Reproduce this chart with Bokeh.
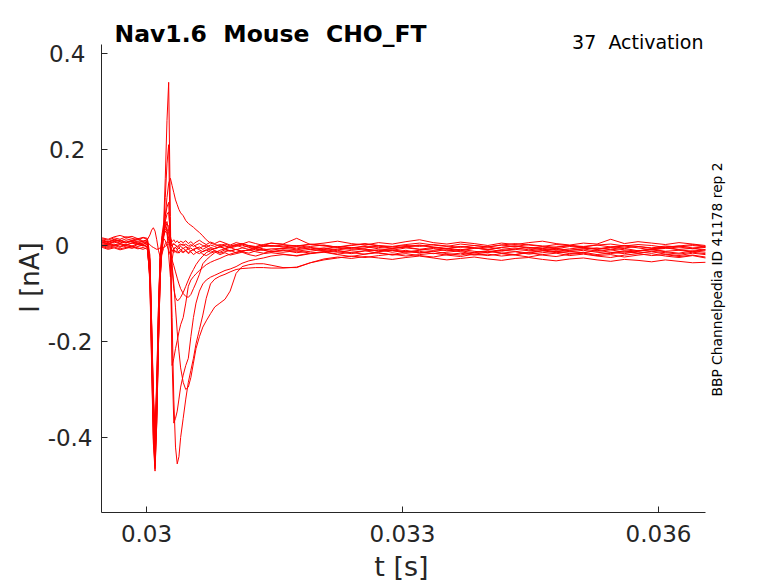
from bokeh.plotting import figure
from bokeh.models import Label, FixedTicker, Range1d, LinearAxis
from bokeh.embed import file_html
from bokeh.resources import INLINE

# ---------------- data ----------------
title_text = "Nav1.6\u00a0 Mouse\u00a0 CHO_FT"
protocol_text = "37\u00a0 Activation"
side_text = "BBP Channelpedia ID 41178 rep 2"
x_label = "t [s]"
y_label = "I [nA]"

x_ticks = [0.030, 0.033, 0.036]
x_tick_labels = ["0.03", "0.033", "0.036"]
y_ticks = [-0.4, -0.2, 0.0, 0.2, 0.4]
y_tick_labels = ["-0.4", "-0.2", "0", "0.2", "0.4"]

# axis extents (data units)
t_lim = (0.0294727, 0.0365508)
i_lim = (-0.55625, 0.41875)

# time [s]
t_s = [
    0.02948, 0.02955, 0.02962, 0.02969, 0.02976, 0.02983, 0.02990, 0.02996, 0.03001,
    0.03004, 0.03006, 0.03008, 0.03010, 0.03012, 0.03014, 0.03016, 0.03018, 0.03020, 0.03022,
    0.03024, 0.03026, 0.03028, 0.03030, 0.03032, 0.03034, 0.03036, 0.03038, 0.03040,
    0.03043, 0.03046, 0.03049, 0.03052, 0.03055, 0.03058, 0.03062, 0.03066, 0.03070, 0.03075,
    0.03080, 0.03086, 0.03092, 0.03098, 0.03105, 0.03112, 0.03120, 0.03128, 0.03137, 0.03146,
    0.03160, 0.03176, 0.03192, 0.03208, 0.03224, 0.03240, 0.03256, 0.03272, 0.03288, 0.03304,
    0.03320, 0.03336, 0.03352, 0.03368, 0.03384, 0.03400, 0.03416, 0.03432, 0.03448, 0.03464,
    0.03480, 0.03496, 0.03512, 0.03528, 0.03544, 0.03560, 0.03576, 0.03592, 0.03608, 0.03624,
    0.03640, 0.03655,
]

# current traces [nA]
i_a = [0.010, 0.006, 0.012, 0.009, 0.014, 0.011, 0.007, 0.009, 0.012,
       0.022, 0.032, 0.037, 0.030, 0.012, -0.010, -0.024, -0.018, -0.006, 0.004, 0.008, 0.006, 0.002, -0.001, 0.003, 0.000, -0.004, -0.002, 0.001,
       0.003, -0.002, -0.005, -0.001, 0.002, -0.003, -0.006, -0.002, 0.001, -0.004, -0.007, -0.003, 0.000, -0.005, -0.002, 0.001, -0.004, -0.006, -0.002, 0.000,
       -0.003, -0.007, -0.002, 0.001, -0.004, -0.008, -0.005, -0.001, -0.006, -0.003, 0.000, -0.004, -0.007, -0.002, -0.005, -0.009, -0.004, -0.001, -0.006, -0.003, -0.007, -0.002, -0.005, -0.008, -0.004, -0.001, -0.005, -0.009, -0.006, -0.003, -0.007, -0.004]
i_b = [0.004, 0.000, 0.003, -0.002, 0.001, 0.005, 0.002, -0.001, 0.003,
       -0.05, -0.19, -0.34, -0.42, -0.31, -0.15, -0.03, 0.02, 0.045, 0.05, 0.03, -0.02, -0.065, -0.03, -0.006, -0.004, -0.008, -0.005, -0.009,
       -0.006, -0.010, -0.007, -0.012, -0.008, -0.005, -0.009, -0.013, -0.010, -0.006, -0.011, -0.014, -0.009, -0.012, -0.008, -0.013, -0.016, -0.011, -0.009, -0.014,
       -0.010, -0.015, -0.012, -0.008, -0.013, -0.017, -0.011, -0.009, -0.014, -0.010, -0.016, -0.012, -0.009, -0.013, -0.018, -0.014, -0.010, -0.012, -0.016, -0.011, -0.008, -0.013, -0.015, -0.010, -0.014, -0.017, -0.012, -0.009, -0.013, -0.016, -0.011, -0.014]
i_c = [-0.002, 0.003, 0.000, -0.004, 0.002, -0.001, 0.004, 0.001, -0.002,
       -0.06, -0.21, -0.37, -0.45, -0.34, -0.20, -0.07, -0.01, 0.04, 0.14, 0.26, 0.34, 0.06, -0.24, -0.37, -0.36, -0.345, -0.32, -0.295,
       -0.27, -0.25, -0.235, -0.19, -0.15, -0.12, -0.095, -0.08, -0.072, -0.066, -0.062, -0.057, -0.052, -0.049, -0.044, -0.037, -0.032, -0.029, -0.026, -0.022,
       -0.019, -0.021, -0.016, -0.013, -0.018, -0.014, -0.011, -0.016, -0.019, -0.013, -0.015, -0.012, -0.017, -0.020, -0.014, -0.011, -0.016, -0.013, -0.018, -0.015, -0.012, -0.017, -0.014, -0.019, -0.015, -0.011, -0.016, -0.013, -0.018, -0.021, -0.016, -0.019]
i_d = [0.012, 0.008, 0.013, 0.010, 0.007, 0.011, 0.015, 0.009, 0.012,
       -0.04, -0.19, -0.35, -0.44, -0.35, -0.19, -0.06, 0.0, 0.03, 0.10, 0.17, 0.21, -0.02, -0.25, -0.235, -0.215, -0.198, -0.18, -0.165,
       -0.15, -0.12, -0.085, -0.072, -0.065, -0.059, -0.052, -0.046, -0.040, -0.035, -0.031, -0.027, -0.022, -0.018, -0.014, -0.011, -0.010, -0.008, -0.009, -0.007,
       -0.006, -0.009, -0.005, -0.010, -0.007, -0.004, -0.008, -0.011, -0.006, -0.003, -0.008, -0.010, -0.006, -0.009, -0.005, -0.008, -0.012, -0.007, -0.004, -0.009, -0.006, -0.010, -0.007, -0.005, -0.009, -0.006, -0.011, -0.008, -0.005, -0.009, -0.012, -0.008]
i_e = [0.014, 0.011, 0.016, 0.013, 0.018, 0.015, 0.012, 0.016, 0.013,
       -0.03, -0.17, -0.33, -0.42, -0.31, -0.15, -0.03, 0.01, 0.03, 0.06, 0.10, 0.13, 0.14, 0.125, 0.11, 0.095, 0.085, 0.075, 0.068,
       0.062, 0.052, 0.046, 0.042, 0.038, 0.033, 0.027, 0.020, 0.012, 0.005, 0.002, 0.000, 0.003, -0.001, 0.002, 0.004, 0.000, -0.002, 0.002, 0.005,
       0.002, -0.001, 0.003, 0.000, -0.003, 0.001, 0.004, 0.000, -0.002, 0.002, 0.005, 0.001, -0.002, 0.003, 0.000, -0.003, 0.001, 0.004, 0.001, -0.002, 0.002, 0.000, -0.003, 0.001, 0.003, -0.001, 0.002, 0.000, -0.004, -0.001, 0.002, -0.002]
i_f = [-0.002, -0.006, -0.003, -0.007, -0.004, -0.001, -0.005, -0.008, -0.004,
       -0.07, -0.23, -0.39, -0.46, -0.36, -0.20, -0.06, 0.0, 0.03, 0.06, 0.08, 0.09, 0.0, -0.15, -0.32, -0.42, -0.455, -0.44, -0.40,
       -0.36, -0.32, -0.285, -0.26, -0.235, -0.205, -0.175, -0.145, -0.110, -0.080, -0.070, -0.064, -0.060, -0.055, -0.050, -0.048, -0.047, -0.046, -0.046, -0.047,
       -0.047, -0.045, -0.036, -0.030, -0.026, -0.022, -0.025, -0.021, -0.018, -0.022, -0.019, -0.016, -0.020, -0.023, -0.018, -0.021, -0.017, -0.020, -0.024, -0.019, -0.016, -0.021, -0.018, -0.022, -0.025, -0.020, -0.017, -0.021, -0.019, -0.023, -0.020, -0.024]
i_g = [0.006, 0.002, 0.007, 0.004, 0.001, 0.005, 0.008, 0.003, 0.006,
       -0.08, -0.25, -0.41, -0.47, -0.37, -0.21, -0.07, -0.01, 0.02, 0.04, 0.05, 0.03, -0.01, -0.04, -0.08, -0.13, -0.18, -0.22, -0.255,
       -0.285, -0.300, -0.295, -0.275, -0.245, -0.215, -0.190, -0.170, -0.157, -0.142, -0.128, -0.120, -0.112, -0.095, -0.058, -0.044, -0.040, -0.038, -0.038, -0.041,
       -0.046, -0.046, -0.036, -0.028, -0.024, -0.027, -0.023, -0.026, -0.029, -0.025, -0.022, -0.026, -0.030, -0.027, -0.024, -0.028, -0.031, -0.027, -0.025, -0.029, -0.032, -0.028, -0.026, -0.030, -0.033, -0.029, -0.031, -0.034, -0.030, -0.033, -0.036, -0.035]
i_i = [0.008, 0.004, 0.009, 0.005, 0.010, 0.007, 0.003, 0.006, 0.009,
       -0.04, -0.17, -0.32, -0.40, -0.29, -0.13, -0.02, 0.01, 0.015, 0.01, 0.0, -0.01, -0.02, -0.03, -0.042, -0.055, -0.068, -0.08, -0.09,
       -0.100, -0.106, -0.108, -0.102, -0.090, -0.078, -0.060, -0.038, -0.030, -0.022, -0.015, -0.010, -0.007, -0.011, -0.008, -0.012, -0.009, -0.006, -0.010, -0.013,
       -0.009, -0.012, -0.008, -0.011, -0.014, -0.010, -0.007, -0.012, -0.009, -0.013, -0.010, -0.006, -0.011, -0.008, -0.012, -0.015, -0.010, -0.008, -0.011, -0.009, -0.013, -0.010, -0.007, -0.012, -0.009, -0.014, -0.011, -0.008, -0.012, -0.010, -0.013, -0.009]
i_j = [-0.004, -0.008, -0.005, -0.009, -0.006, -0.003, -0.007, -0.004, -0.008,
       -0.06, -0.21, -0.36, -0.43, -0.33, -0.17, -0.05, 0.0, 0.03, 0.05, 0.065, 0.07, 0.02, -0.05, -0.09, -0.108, -0.115, -0.113, -0.108,
       -0.098, -0.085, -0.072, -0.060, -0.050, -0.040, -0.030, -0.022, -0.015, -0.010, -0.006, -0.003, -0.006, -0.002, 0.001, -0.004, -0.001, -0.005, -0.002, 0.000,
       -0.003, 0.000, -0.004, -0.007, -0.002, -0.005, -0.001, -0.004, -0.006, -0.002, 0.001, -0.003, -0.006, -0.002, -0.005, -0.008, -0.004, -0.001, -0.004, -0.006, -0.003, 0.000, -0.004, -0.007, -0.003, -0.005, -0.002, -0.006, -0.003, -0.001, -0.005, -0.003]
i_l = [0.002, -0.002, 0.001, 0.004, 0.000, -0.003, 0.002, 0.000, -0.002,
       -0.03, -0.16, -0.30, -0.38, -0.28, -0.13, -0.03, 0.005, 0.02, 0.03, 0.025, 0.01, -0.005, -0.012, -0.008, -0.014, -0.010, -0.016, -0.012,
       -0.015, -0.011, -0.017, -0.013, -0.019, -0.015, -0.012, -0.018, -0.021, -0.016, -0.013, -0.019, -0.015, -0.020, -0.017, -0.014, -0.019, -0.022, -0.017, -0.015,
       -0.018, -0.022, -0.017, -0.014, -0.019, -0.023, -0.018, -0.015, -0.020, -0.017, -0.021, -0.024, -0.019, -0.016, -0.020, -0.018, -0.022, -0.019, -0.015, -0.020, -0.023, -0.018, -0.016, -0.021, -0.019, -0.024, -0.020, -0.017, -0.022, -0.025, -0.021, -0.026]
i_m = [0.016, 0.013, 0.018, 0.021, 0.017, 0.019, 0.014, 0.017, 0.015,
       -0.02, -0.16, -0.32, -0.41, -0.30, -0.14, -0.02, 0.015, 0.03, 0.04, 0.035, 0.025, 0.015, 0.008, 0.012, 0.006, 0.010, 0.005, 0.009,
       0.006, 0.010, 0.004, 0.008, 0.003, 0.007, 0.011, 0.006, 0.002, 0.007, 0.004, 0.009, 0.005, 0.001, 0.006, 0.003, 0.008, 0.004, 0.000, 0.005,
       0.003, 0.015, 0.002, 0.005, 0.009, 0.004, 0.001, 0.006, 0.003, 0.008, 0.012, 0.006, 0.003, 0.007, 0.004, 0.000, 0.005, 0.002, 0.006, 0.009, 0.004, 0.001, 0.005, 0.003, 0.013, 0.004, 0.008, 0.005, 0.002, 0.006, 0.003, 0.000]
i_n = [0.007, 0.003, 0.008, 0.012, 0.006, 0.009, 0.005, 0.002, 0.006,
       -0.05, -0.20, -0.36, -0.44, -0.33, -0.17, -0.05, 0.0, 0.025, 0.04, 0.045, 0.04, 0.02, 0.0, -0.008, -0.004, -0.009, -0.005, -0.002,
       -0.006, -0.003, -0.008, -0.005, -0.010, -0.006, -0.003, -0.008, -0.004, -0.009, -0.006, -0.002, -0.007, -0.004, -0.009, -0.005, -0.008, -0.004, -0.007, -0.010,
       -0.006, -0.003, -0.008, -0.005, -0.009, -0.006, -0.002, -0.007, -0.010, -0.005, -0.008, -0.004, -0.007, -0.011, -0.006, -0.003, -0.008, -0.005, -0.009, -0.006, -0.010, -0.007, -0.004, -0.008, -0.005, -0.009, -0.012, -0.007, -0.004, -0.008, -0.006, -0.010]
i_o = [0.000, -0.004, -0.001, 0.002, -0.003, -0.006, -0.002, 0.001, -0.003,
       -0.07, -0.24, -0.40, -0.465, -0.37, -0.21, -0.07, -0.015, 0.015, 0.035, 0.03, 0.015, 0.0, -0.01, -0.015, -0.011, -0.016, -0.012, -0.009,
       -0.013, -0.010, -0.015, -0.011, -0.008, -0.014, -0.017, -0.012, -0.009, -0.014, -0.011, -0.016, -0.013, -0.010, -0.015, -0.012, -0.009, -0.013, -0.016, -0.012,
       -0.014, -0.011, -0.016, -0.013, -0.010, -0.015, -0.018, -0.013, -0.010, -0.014, -0.012, -0.017, -0.014, -0.011, -0.015, -0.012, -0.016, -0.019, -0.014, -0.011, -0.015, -0.013, -0.010, -0.014, -0.017, -0.013, -0.016, -0.012, -0.015, -0.018, -0.014, -0.017]
i_p = [0.010, 0.007, 0.011, 0.008, 0.005, 0.009, 0.012, 0.008, 0.005,
       0.002, -0.002, -0.004, -0.006, -0.008, -0.007, -0.005, -0.006, -0.004, -0.002, 0.001, 0.003, 0.005, 0.002, 0.004, 0.001, -0.002, 0.001, 0.003,
       0.000, 0.003, -0.001, 0.002, -0.002, 0.001, 0.004, 0.000, -0.003, 0.001, -0.002, 0.002, -0.001, -0.004, 0.000, 0.003, -0.001, -0.003, 0.001, -0.002,
       0.001, -0.002, 0.002, -0.001, -0.004, 0.000, 0.003, -0.001, -0.003, 0.000, -0.002, 0.002, -0.001, -0.004, 0.000, -0.003, 0.001, -0.002, 0.002, -0.001, -0.004, 0.000, -0.002, 0.001, -0.003, 0.000, -0.002, -0.005, -0.001, -0.003, 0.000, -0.003]

traces = [i_a, i_b, i_c, i_d, i_e, i_f, i_g, i_i, i_j, i_l, i_m, i_n, i_o, i_p]

# ---------------- figure ----------------
FONT = "DejaVu Sans"
AX = "#262626"
W, H = 778, 583
TICK_FS = "23px"

p = figure(width=W, height=H, output_backend="svg", toolbar_location=None,
           x_axis_location=None, y_axis_location=None,
           x_range=Range1d(0.02828906, 0.03740625), y_range=Range1d(-0.704167, 0.510417),
           min_border_left=0, min_border_right=0, min_border_top=0, min_border_bottom=0)
p.xgrid.visible = False
p.ygrid.visible = False
p.outline_line_color = None
p.background_fill_color = "white"
p.border_fill_color = "white"

for tr in traces:
    p.line(t_s, tr, line_color="#ff0000", line_width=1)


def style_axis(ax, draw_line=True):
    ax.axis_line_color = AX if draw_line else None
    ax.major_tick_line_color = AX
    ax.major_tick_in = 6
    ax.major_tick_out = 0
    ax.minor_tick_line_color = None
    ax.major_label_text_font = FONT
    ax.major_label_text_font_size = TICK_FS
    ax.major_label_text_color = AX


xaxis = LinearAxis(ticker=FixedTicker(ticks=x_ticks), bounds=t_lim, fixed_location=i_lim[0])
xaxis.major_label_overrides = dict(zip(x_ticks, x_tick_labels))
style_axis(xaxis)
xaxis.major_label_standoff = 13
p.add_layout(xaxis, "below")

# y tick labels: the reference places positive, zero and negative labels at different offsets
y_groups = [
    ([v for v in y_ticks if v > 0], 16, True),
    ([v for v in y_ticks if v == 0], 32, False),
    ([v for v in y_ticks if v < 0], 9, False),
]
for ticks, standoff, draw_line in y_groups:
    yaxis = LinearAxis(ticker=FixedTicker(ticks=ticks), bounds=i_lim, fixed_location=t_lim[0])
    yaxis.major_label_overrides = {v: lbl for v, lbl in zip(y_ticks, y_tick_labels) if v in ticks}
    style_axis(yaxis, draw_line)
    yaxis.major_label_standoff = standoff
    p.add_layout(yaxis, "left")


def lab(text, x, y, size, align="center", style="normal", angle=0, color="black"):
    p.add_layout(Label(x=x, y=H - y, x_units="screen", y_units="screen", text=text,
                       text_font=FONT, text_font_size=size, text_font_style=style,
                       text_color=color, text_align=align, text_baseline="middle",
                       angle=angle, angle_units="deg"))


lab(title_text, 114, 33, "23.5px", align="left", style="bold")
lab(protocol_text, 703, 41, "19px", align="right")
lab(side_text, 716, 279, "13.8px", angle=90)
lab(y_label, 29, 277, "26px", angle=90, color=AX)
lab(x_label, 401, 566, "27px", color=AX)

open("out.html", "w").write(file_html(p, INLINE))
